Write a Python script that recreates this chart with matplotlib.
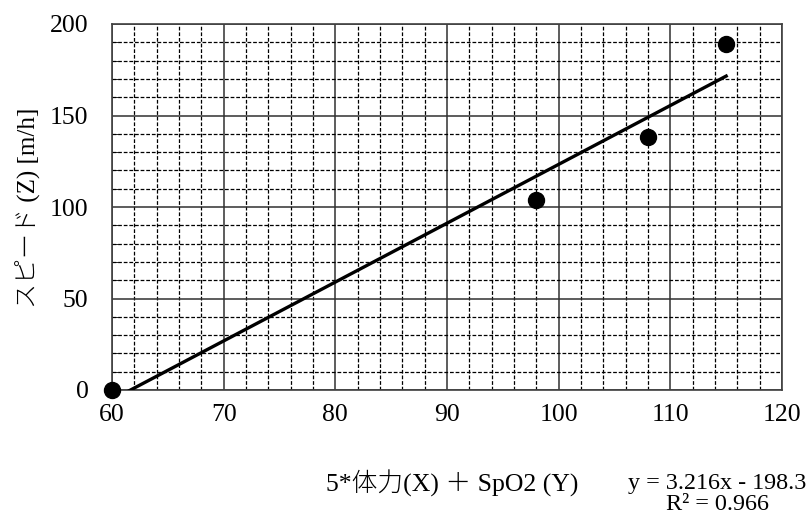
import matplotlib.pyplot as plt
from matplotlib.ticker import MultipleLocator

plt.rcParams['font.family'] = ['Liberation Serif', 'Noto Sans CJK JP']

# measured points: 5*stamina + SpO2 vs speed
x_vals = [60, 98, 108, 115]
z_vals = [0, 104, 138, 189]

# linear trendline
slope = 3.216
intercept = -198.3
r2 = 0.966

fig = plt.figure(figsize=(8.09, 5.14), dpi=100)
ax = fig.add_axes([112 / 809, 124 / 514, 670 / 809, 366 / 514])

ax.set_xlim(60, 120)
ax.set_ylim(0, 200)
ax.xaxis.set_major_locator(MultipleLocator(10))
ax.xaxis.set_minor_locator(MultipleLocator(2))
ax.yaxis.set_major_locator(MultipleLocator(50))
ax.yaxis.set_minor_locator(MultipleLocator(10))

ax.grid(which='major', color='#303030', linestyle='-', linewidth=1.1)
ax.grid(which='minor', color='black', linestyle=(0, (3, 1.5)), linewidth=0.9)
ax.set_axisbelow(True)

for s in ax.spines.values():
    s.set_color('#404040')
    s.set_linewidth(1.2)

ax.tick_params(which='major', length=0, labelsize=18.5)
ax.tick_params(axis='x', which='major', pad=10)
ax.tick_params(axis='y', which='major', pad=17)
ax.tick_params(axis='x', which='minor', length=0)
ax.tick_params(axis='y', which='minor', direction='in', length=4, color='black')

# trend line from the fitted equation
tx = [x_vals[0], x_vals[-1]]
ty = [slope * v + intercept for v in tx]
ax.plot(tx, ty, color='black', linewidth=2.4, zorder=3)

ax.plot(x_vals, z_vals, 'o', color='black', markersize=11.5, clip_on=False, zorder=4)

fig.text(28 / 809, 1 - 208 / 514, 'スピード (Z) [m/h]', rotation=90,
         ha='center', va='center', fontsize=18, fontweight='light')
fig.text(452 / 809, 1 - 483 / 514, '5*体力(X) ＋ SpO2 (Y)',
         ha='center', va='center', fontsize=18.5, fontweight='light')
fig.text(717 / 809, 1 - 483 / 514, f'y = {slope}x - {abs(intercept)}',
         ha='center', va='center', fontsize=17.4)
fig.text(718 / 809, 1 - 505 / 514, f'R² = {r2}',
         ha='center', va='center', fontsize=17.4)

fig.savefig('out.png', dpi=100)
